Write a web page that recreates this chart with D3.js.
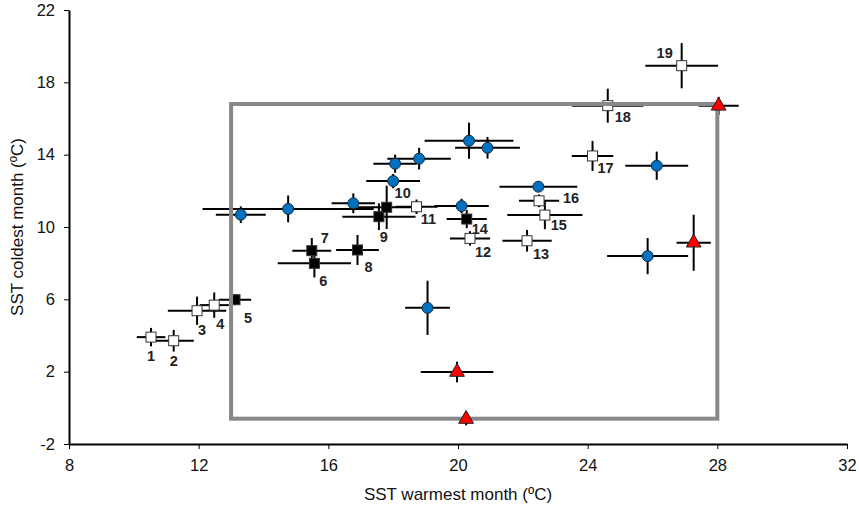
<!DOCTYPE html>
<html>
<head>
<meta charset="utf-8">
<script src="https://cdn.jsdelivr.net/npm/d3@7"></script>
<style>
body { margin: 0; background: #fff; }
svg { font-family: "Liberation Sans", Arial, sans-serif; }
</style>
</head>
<body>
<div id="chart"></div>
<script>
// numbered sites (squares), filled = black square
var siteLabels = [1, 2, 3, 4, 5, 6, 7, 8, 9, 10, 11, 12, 13, 14, 15, 16, 17, 18, 19];
var siteX    = [10.53, 11.23, 11.95, 12.48, 13.12, 15.57, 15.49, 16.9, 17.56, 17.8, 18.72, 20.37, 22.13, 20.27, 22.68, 22.5, 24.15, 24.62, 26.9];
var siteY    = [3.91, 3.71, 5.37, 5.68, 5.98, 7.99, 8.69, 8.73, 10.57, 11.09, 11.12, 9.37, 9.24, 10.44, 10.66, 11.45, 13.93, 16.71, 18.92];
var siteXErr = [0.44, 0.62, 0.9, 0.45, 0.5, 1.13, 0.6, 0.66, 1.13, 0.9, 0.65, 0.62, 0.76, 0.62, 1.16, 0.62, 0.64, 1.1, 1.12];
var siteYErr = [0.51, 0.6, 0.78, 0.7, 0.3, 0.78, 0.7, 0.83, 0.74, 1.2, 0.4, 0.4, 0.6, 0.5, 0.78, 0.35, 0.83, 0.94, 1.25];
var siteFilled = [false, false, false, false, true, true, true, true, true, true, false, false, false, true, false, false, false, false, false];

// blue circles
var circX    = [13.3, 14.76, 16.77, 18.0, 18.06, 18.8, 20.34, 20.91, 20.11, 22.48, 26.13, 19.06, 25.85];
var circY    = [10.68, 11.0, 11.31, 12.54, 13.5, 13.78, 14.77, 14.38, 11.16, 12.23, 13.39, 5.53, 8.39];
var circXErr = [0.77, 2.64, 0.67, 0.83, 0.67, 0.98, 1.37, 1.0, 0.84, 1.2, 0.97, 0.69, 1.25];
var circYErr = [0.46, 0.74, 0.55, 0.4, 0.5, 0.6, 1.0, 0.6, 0.4, 0.3, 0.78, 1.5, 1.0];

// red triangles
var triX    = [28.04, 27.27, 19.97, 20.25];
var triY    = [16.7, 9.13, 1.98, -0.62];
var triXErr = [0.62, 0.53, 1.12, 0];
var triYErr = [0.5, 1.55, 0.57, 0.35];

// grey box
var boxX = [13, 28];
var boxY = [-0.6, 16.8];

var xTicks = [8, 12, 16, 20, 24, 28, 32];
var yTicks = [-2, 2, 6, 10, 14, 18, 22];

// label offsets (px) for site numbers
var labelOffset = {
  1: [0, 19], 2: [0, 20], 3: [5, 19], 4: [6, 19], 5: [13, 18], 6: [9, 18], 7: [13, -13],
  8: [11, 17], 9: [5, 20], 10: [16, -14], 11: [12, 12], 12: [13, 14], 13: [14, 13],
  14: [13, 10], 15: [14, 10], 16: [32, -3], 17: [13, 12], 18: [15, 11], 19: [-17, -13]
};

var width = 859, height = 507;
var margin = {top: 10, right: 12, bottom: 63, left: 69};

var svg = d3.select('#chart').append('svg')
  .attr('width', width).attr('height', height);

var x = d3.scaleLinear().domain([8, 32]).range([margin.left, width - margin.right]);
var y = d3.scaleLinear().domain([-2, 22]).range([height - margin.bottom, margin.top]);

function rows(xs, ys, xe, ye) {
  return xs.map(function(v, i) { return {x: v, y: ys[i], xe: xe[i], ye: ye[i], i: i}; });
}
var sites = rows(siteX, siteY, siteXErr, siteYErr);
sites.forEach(function(d) { d.label = siteLabels[d.i]; d.filled = siteFilled[d.i]; });
var circles = rows(circX, circY, circXErr, circYErr);
var tris = rows(triX, triY, triXErr, triYErr);

var fmt = function(d) { return String(d); };

// axes
var xAxis = svg.append('g')
  .attr('transform', 'translate(0,' + y(-2) + ')')
  .call(d3.axisBottom(x).tickValues(xTicks).tickFormat(fmt).tickSize(5).tickSizeOuter(0).tickPadding(10));
var yAxis = svg.append('g')
  .attr('transform', 'translate(' + x(8) + ',0)')
  .call(d3.axisLeft(y).tickValues(yTicks).tickFormat(fmt).tickSize(5).tickSizeOuter(0).tickPadding(9));
[xAxis, yAxis].forEach(function(a) {
  a.select('.domain').attr('stroke', '#000').attr('stroke-width', 2);
  a.selectAll('.tick line').attr('stroke', '#000').attr('stroke-width', 1);
  a.selectAll('.tick text').attr('font-size', 16.5).attr('fill', '#111')
    .attr('font-family', '"Liberation Sans", Arial, sans-serif');
});

svg.append('text')
  .attr('x', x(20)).attr('y', 500)
  .attr('text-anchor', 'middle').attr('font-size', 17).attr('fill', '#111')
  .text('SST warmest month (ºC)');
svg.append('text')
  .attr('transform', 'translate(23,' + y(10) + ') rotate(-90)')
  .attr('text-anchor', 'middle').attr('font-size', 17).attr('fill', '#111')
  .text('SST coldest month (ºC)');

// error bars
var all = sites.concat(circles, tris);
var bars = svg.append('g').attr('stroke', '#000').attr('stroke-width', 2);
bars.selectAll('line.h').data(all.filter(function(d) { return d.xe > 0; })).enter().append('line')
  .attr('class', 'h')
  .attr('x1', function(d) { return x(d.x - d.xe); })
  .attr('x2', function(d) { return x(d.x + d.xe); })
  .attr('y1', function(d) { return y(d.y); })
  .attr('y2', function(d) { return y(d.y); });
bars.selectAll('line.v').data(all).enter().append('line')
  .attr('class', 'v')
  .attr('x1', function(d) { return x(d.x); })
  .attr('x2', function(d) { return x(d.x); })
  .attr('y1', function(d) { return y(d.y - d.ye); })
  .attr('y2', function(d) { return y(d.y + d.ye); });

// squares
var sq = 10;
svg.append('g').selectAll('rect').data(sites).enter().append('rect')
  .attr('x', function(d) { return x(d.x) - sq / 2; })
  .attr('y', function(d) { return y(d.y) - sq / 2; })
  .attr('width', sq).attr('height', sq)
  .attr('fill', function(d) { return d.filled ? '#000' : '#fff'; })
  .attr('stroke', '#333').attr('stroke-width', 1);

// circles
svg.append('g').selectAll('circle').data(circles).enter().append('circle')
  .attr('cx', function(d) { return x(d.x); })
  .attr('cy', function(d) { return y(d.y); })
  .attr('r', 5.5)
  .attr('fill', '#0070C0').attr('stroke', '#1a2a3a').attr('stroke-width', 1);

// grey box
svg.append('rect')
  .attr('x', x(boxX[0])).attr('y', y(boxY[1]))
  .attr('width', x(boxX[1]) - x(boxX[0]))
  .attr('height', y(boxY[0]) - y(boxY[1]))
  .attr('fill', 'none').attr('stroke', '#888').attr('stroke-width', 4);

// triangles
svg.append('g').selectAll('path').data(tris).enter().append('path')
  .attr('d', d3.symbol().type(d3.symbolTriangle).size(95))
  .attr('transform', function(d) { return 'translate(' + x(d.x) + ',' + y(d.y) + ')'; })
  .attr('fill', '#FF0000').attr('stroke', '#222').attr('stroke-width', 1);

// site numbers
svg.append('g').selectAll('text').data(sites).enter().append('text')
  .attr('x', function(d) { return x(d.x) + labelOffset[d.label][0]; })
  .attr('y', function(d) { return y(d.y) + labelOffset[d.label][1]; })
  .attr('text-anchor', 'middle').attr('dominant-baseline', 'central')
  .attr('font-size', 14.5).attr('font-weight', 'bold').attr('fill', '#222')
  .text(function(d) { return d.label; });
</script>
</body>
</html>
